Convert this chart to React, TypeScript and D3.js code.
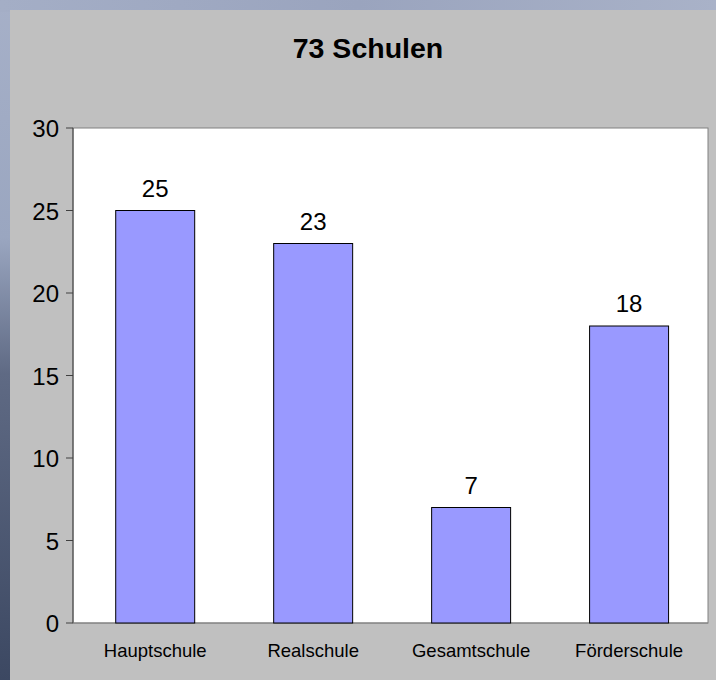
import React from "react";
import * as d3 from "d3";

const categories = ["Hauptschule", "Realschule", "Gesamtschule", "Förderschule"];
const values = [25, 23, 7, 18];
const yTicks = [0, 5, 10, 15, 20, 25, 30];
const title = "73 Schulen";

export default function App() {
  const W = 716, H = 680;
  const m = { left: 73, right: 708, top: 128, bottom: 623 };
  const x = d3.scaleBand<string>().domain(categories).range([m.left, m.right]).paddingInner(0.5).paddingOuter(0.26).align(0.52);
  const y = d3.scaleLinear().domain([0, 30]).range([m.bottom, m.top]);
  const font = "Liberation Sans, Arial, sans-serif";
  return (
    <svg width={W} height={H} style={{ position: "absolute", left: 0, top: 0 }} fontFamily={font}>
      <defs>
        <linearGradient id="bgv" x1="0" y1="0" x2="0" y2="1">
          <stop offset="0" stopColor="#a6b0c8" />
          <stop offset="0.35" stopColor="#9aa6c0" />
          <stop offset="0.55" stopColor="#5f6a84" />
          <stop offset="1" stopColor="#3c4862" />
        </linearGradient>
        <linearGradient id="bgh" x1="0" y1="0" x2="1" y2="0">
          <stop offset="0" stopColor="#a4aec6" />
          <stop offset="0.5" stopColor="#9aa4be" />
          <stop offset="1" stopColor="#a9b2c8" />
        </linearGradient>
      </defs>
      <rect x={0} y={0} width={W} height={H} fill="url(#bgv)" />
      <rect x={0} y={0} width={W} height={12} fill="url(#bgh)" />
      <rect x={10} y={10} width={W - 10} height={H - 10} fill="#c0c0c0" />
      <text x={368} y={58} textAnchor="middle" fontSize={28.5} fontWeight="bold" fill="#000">{title}</text>
      <rect x={m.left} y={m.top} width={m.right - m.left} height={m.bottom - m.top} fill="#fff" stroke="#808080" strokeWidth={1} />
      <line x1={m.left} x2={m.left} y1={m.top} y2={m.bottom} stroke="#404040" strokeWidth={1} />
      <line x1={m.left} x2={m.right} y1={m.bottom} y2={m.bottom} stroke="#808080" strokeWidth={1} />
      {yTicks.map((t) => (
        <g key={t}>
          <line x1={m.left - 7} x2={m.left} y1={y(t)} y2={y(t)} stroke="#404040" />
          <text x={m.left - 14} y={y(t) + 9} textAnchor="end" fontSize={24} fill="#000">{t}</text>
        </g>
      ))}
      {categories.map((c, i) => (
        <g key={c}>
          <rect x={x(c)!} y={y(values[i])} width={x.bandwidth()} height={y(0) - y(values[i])} fill="#9999ff" stroke="#000" strokeWidth={1} />
          <text x={x(c)! + x.bandwidth() / 2} y={y(values[i]) - 14} textAnchor="middle" fontSize={24} fill="#000">{values[i]}</text>
          <text x={x(c)! + x.bandwidth() / 2} y={657} textAnchor="middle" fontSize={18.5} fill="#000">{c}</text>
        </g>
      ))}
    </svg>
  );
}
